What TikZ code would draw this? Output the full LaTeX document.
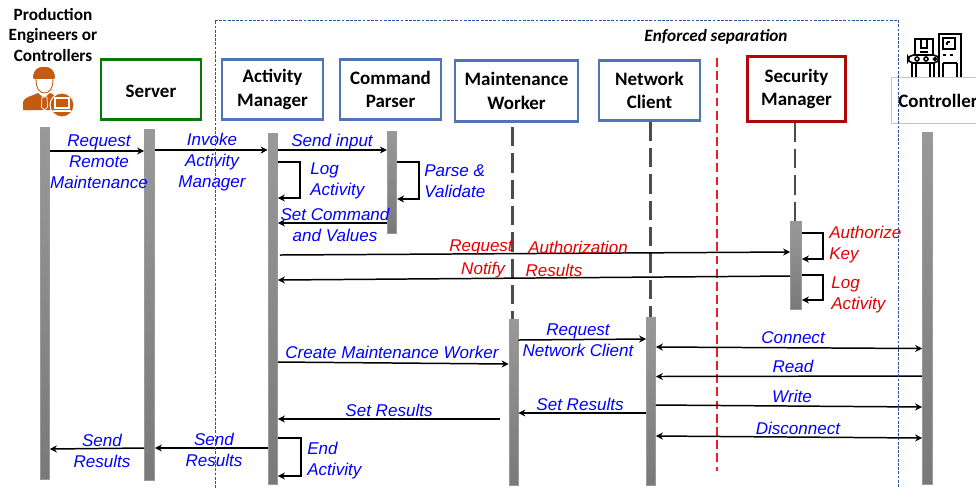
\documentclass[tikz,border=0pt]{standalone}
\usepackage{fontspec}
\setmainfont{Liberation Sans}
\newfontfamily\titlefont{Carlito}
\usetikzlibrary{arrows.meta,positioning,calc}
\definecolor{boxblue}{HTML}{4F74B8}
\definecolor{boxgreen}{HTML}{067A06}
\definecolor{boxred}{HTML}{B00808}
\definecolor{sepred}{HTML}{EE1C25}
\definecolor{sepblue}{HTML}{2F52A0}
\definecolor{workerorange}{HTML}{C55A11}
\begin{document}
\begin{tikzpicture}[
  x=0.02cm, y=-0.02cm,
  actor/.style={draw, line width=1.3pt, align=center, inner sep=0pt,
                execute at begin node={\rule{0pt}{9.4pt}},
                font=\titlefont\fontsize{10.8}{13.2}\selectfont\bfseries},
  plain/.style={align=center, inner sep=0pt,
                font=\titlefont\fontsize{10.8}{13}\selectfont\bfseries},
  bar/.style={draw=gray!80, line width=0.4pt, inner sep=0pt, minimum width=0.19cm,
              top color=gray!80, bottom color=gray!95!black},
  life/.style={draw=black!70, line width=1.3pt, dash pattern=on 11pt off 4pt},
  msg/.style={align=center, inner sep=0pt, text=blue,
              font=\fontsize{9.7}{11.9}\selectfont\itshape},
  alert/.style={msg, text=red!90!black},
  arr/.style={-{Stealth[length=4pt,width=4pt]}, line width=0.85pt},
  both/.style={{Stealth[length=4pt,width=4pt]}-{Stealth[length=4pt,width=4pt]}, line width=0.85pt},
  sep/.style={draw=sepblue, line width=0.5pt, dash pattern=on 1.6pt off 0.8pt}
]
\clip (0,0) rectangle (976,488);
\useasboundingbox (0,0) rectangle (976,488);

\node[plain, font=\titlefont\fontsize{9.8}{11.7}\selectfont\bfseries] (eng) at (53,35) {Production\\Engineers or\\Controllers};
\node[actor, draw=boxgreen, minimum width=2.0cm, minimum height=1.2cm] (srv) at (151,89.5) {Server};
\node[actor, draw=boxblue, minimum width=2.02cm, minimum height=1.2cm] (am) at (272.5,89.5) {Activity\\Manager};
\node[actor, draw=boxblue, minimum width=2.02cm, minimum height=1.2cm] (cp) at (390.5,89.5) {Command\\Parser};
\node[actor, draw=boxblue, minimum width=2.46cm, minimum height=1.22cm] (mw) at (516.5,91) {Maintenance\\Worker};
\node[actor, draw=boxblue, minimum width=2.02cm, minimum height=1.2cm] (nc) at (649.5,90.5) {Network\\Client};
\node[actor, draw=boxred, minimum width=1.96cm, minimum height=1.3cm] (sm) at (796.5,89) {Security\\Manager};
\node[actor, draw=gray!45, line width=0.5pt, anchor=west, minimum width=2.2cm, minimum height=0.92cm] (ctl) at (890.5,100.5) {};
\node[plain, anchor=west] (ctltext) at (898,101) {Controller};
\node[font=\titlefont\fontsize{9.8}{12}\selectfont\bfseries\itshape, inner sep=0pt] (sepnote) at (716,37) {Enforced separation};

\node[bar, minimum width=0.18cm, minimum height=7.04cm] (engbar) at (45,303) {};
\node[bar, minimum width=0.2cm, minimum height=7.02cm] (srvbar) at (149.5,304.5) {};
\node[bar, minimum height=7.02cm] (ambar) at (272.8,308.5) {};
\node[bar, minimum height=2.04cm] (cpbar) at (392,182) {};
\node[bar, minimum width=0.18cm, minimum height=3.32cm] (mwbar) at (513.5,402) {};
\node[bar, minimum width=0.18cm, minimum height=3.36cm] (ncbar) at (651,401) {};
\node[bar, minimum width=0.22cm, minimum height=1.76cm] (smbar) at (796,265) {};
\node[bar, minimum width=0.2cm, minimum height=7.04cm] (ctlbar) at (927.5,308) {};

\draw[life] ($(mwbar.north |- 0,127)+(-1,0)$) -- ($(mwbar.north)+(-1,0)$);
\draw[life] ($(ncbar.north |- nc.south)+(-0.5,0)$) -- ($(ncbar.north)+(-0.5,0)$);
\draw[life] ($(smbar.north |- sm.south)+(-1,0)$) -- ($(smbar.north)+(-1,0)$);
\draw[sepred, line width=1.5pt, dash pattern=on 5pt off 2.5pt] (717,58) -- (717,471);

\draw[arr] (engbar.east |- 0,151) -- (srvbar.west |- 0,151);
\draw[arr] (srvbar.east |- 0,150) -- (ambar.west |- 0,150);
\draw[arr] (ambar.east |- 0,150) -- (cpbar.west |- 0,150);
\draw[arr] (ambar.east |- 0,162) -- (300,162) -- (300,198) -- (ambar.east |- 0,198);
\draw[arr] (cpbar.east |- 0,162) -- (419,162) -- (419,199) -- (cpbar.east |- 0,199);
\draw[arr] (cpbar.west |- 0,223) -- (ambar.east |- 0,223);
\draw[arr] ($(ambar.east |- 0,255)+(2,0)$) -- (smbar.west |- 0,252);
\draw[arr] (smbar.west |- 0,276) -- (ambar.east |- 0,280);
\draw[arr] (smbar.east |- 0,233) -- (823,233) -- (823,259) -- (smbar.east |- 0,259);
\draw[arr] (smbar.east |- 0,275) -- (823,275) -- (823,300) -- (smbar.east |- 0,300);
\draw[arr] (ambar.east |- 0,362) -- (mwbar.west |- 0,364);
\draw[arr] (mwbar.east |- 0,340) -- (ncbar.west |- 0,339);
\draw[arr] (500,419) -- (ambar.east |- 0,419);
\draw[arr] (ncbar.west |- 0,413) -- (mwbar.east |- 0,413);
\draw[both] (ncbar.east |- 0,347) -- (ctlbar.west |- 0,348.5);
\draw[arr] (ctlbar.west |- 0,376) -- (ncbar.east |- 0,376.5);
\draw[arr] (ncbar.east |- 0,405) -- (ctlbar.west |- 0,407);
\draw[both] (ncbar.east |- 0,436) -- (ctlbar.west |- 0,438);
\draw[arr] (ambar.west |- 0,448) -- (srvbar.east |- 0,448);
\draw[arr] (srvbar.west |- 0,448) -- (engbar.east |- 0,449);
\draw[arr] (ambar.east |- 0,438) -- (301,438) -- (301,476) -- (ambar.east |- 0,476);

\node[msg] (m1) at (99,162) {Request\\Remote\\Maintenance};
\node[msg] (m2) at (212,162) {Invoke\\Activity\\Manager};
\node[msg] (m3) at (332,142) {Send input};
\node[msg, align=left, anchor=west] (m4) at (310,181) {Log\\Activity};
\node[msg, align=left, anchor=west] (m5) at (424,181) {Parse \&\\Validate};
\node[msg] (m6) at (335,225) {Set Command\\and Values};
\node[alert] (m7) at (481,247) {Request};
\node[alert] (m8) at (578,247) {Authorization};
\node[alert] (m9) at (483,270) {Notify};
\node[alert] (m10) at (554,270) {Results};
\node[alert, align=left, anchor=west] (m11) at (829,245) {Authorize\\Key};
\node[alert, align=left, anchor=west] (m12) at (831,295) {Log\\Activity};
\node[msg] (m13) at (392,352) {Create Maintenance Worker};
\node[msg] (m14) at (578,340.5) {Request\\Network Client};
\node[msg] (m15) at (389,410) {Set Results};
\node[msg] (m16) at (580,404) {Set Results};
\node[msg] (m17) at (793,337.5) {Connect};
\node[msg] (m18) at (793,366) {Read};
\node[msg] (m19) at (792,396) {Write};
\node[msg] (m20) at (798,428) {Disconnect};
\node[msg] (m21) at (102,450.5) {Send\\Results};
\node[msg] (m22) at (214,449.5) {Send\\Results};
\node[msg, align=left, anchor=west] (m23) at (307,461) {End\\Activity};

\fill[workerorange, rounded corners=1pt] (33,79) -- (33,77) .. controls (34,70) and (38,67) .. (44,67) .. controls (50,67) and (54,70) .. (55,77) -- (55,79) -- cycle;
\fill[workerorange] (23,110) -- (23,102) .. controls (24,97) and (32,96) .. (38,93) -- (44,98) -- (50,93) .. controls (54,95) and (58,96) .. (60,100) -- (60,110) -- cycle;
\draw[workerorange, fill=white, line width=0.5pt] (36,79) .. controls (36,89) and (40,93) .. (44.5,93) .. controls (49,93) and (53,89) .. (53,79);
\draw[white, fill=workerorange, line width=0.4pt] (42,97) -- (47,97) -- (47.5,107) -- (44.5,110) -- (41.5,107) -- cycle;
\draw[white, fill=workerorange, line width=0.6pt] (62,105) circle [radius=12];
\draw[white, line width=0.6pt] (55,98) rectangle (69,108) (53,111) -- (71,111);

\begin{scope}[line width=0.9pt, black]
\draw (939,77) -- (939,34) -- (961,34) -- (961,77);
\draw (943,38) rectangle (955,49);
\draw (947,42) -- (947,45) (947,42) -- (950,42);
\draw (943,55) -- (946,55) (950,55) -- (953,55) (943,63) -- (957,63);
\draw (915,55) -- (915,39) -- (933,39) -- (933,55);
\draw (921,39) -- (921,48) -- (927,48) -- (927,39) (920,52) -- (928,52);
\draw[rounded corners=3pt] (908,55) rectangle (939,63);
\draw (917,59) circle [radius=2] (926,59) circle [radius=2] (935,59) circle [radius=1.5];
\draw (912,63) -- (912,77) (916,63) -- (916,77) (930,63) -- (930,77) (934,63) -- (934,77);
\draw (943,63) -- (943,77) (957,63) -- (957,77);
\end{scope}

\draw[sep] (215,488) |- (898,20) -- (898,488);
\end{tikzpicture}
\end{document}
